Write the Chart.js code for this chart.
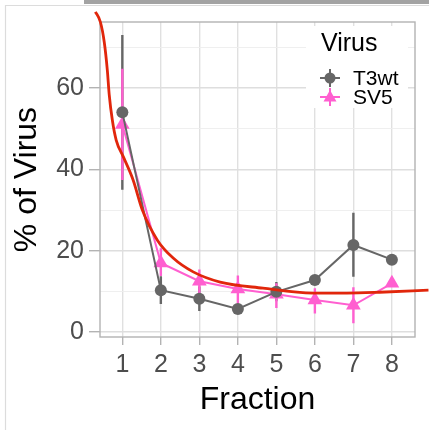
<!DOCTYPE html>
<html>
<head>
<meta charset="utf-8">
<script src="https://cdn.jsdelivr.net/npm/chart.js@4.4.0/dist/chart.umd.min.js"></script>
<style>
  html, body { margin: 0; padding: 0; background: #ffffff; }
  #wrap { width: 429px; height: 430px; }
</style>
</head>
<body>
<div id="wrap"><canvas id="c" width="429" height="430"></canvas></div>
<script>
// Fraction numbers along the x axis
const fractions = [1, 2, 3, 4, 5, 6, 7, 8];
const yTicks = [0, 10, 20, 30, 40, 50, 60, 70];

// T3wt: mean % of virus per fraction with error bar limits
const t3wtMean = [54.0, 10.3, 8.2, 5.7, 9.9, 12.8, 21.4, 17.8];
const t3wtLow  = [35.0, 6.9, 5.2, 4.6, 7.6, 11.6, 13.6, 16.8];
const t3wtHigh = [73.0, 13.7, 11.2, 6.8, 12.3, 14.0, 29.3, 18.8];

// SV5: mean % of virus per fraction with error bar limits
const sv5Mean = [51.0, 17.0, 12.5, 10.6, 9.3, 7.9, 6.6, 12.0];
const sv5Low  = [37.4, 13.8, 9.6, 7.0, 5.9, 4.6, 2.2, 11.2];
const sv5High = [64.7, 20.6, 15.4, 13.9, 12.0, 10.8, 11.0, 12.8];

// Hand-drawn trend curve (fraction, %)
const trendX = [0.20, 0.30, 0.43, 0.53, 0.61, 0.66, 0.74, 0.84, 1.03, 1.28, 1.52, 1.91, 2.32, 2.84, 3.54, 4.65, 5.95, 6.83, 7.68, 8.95];
const trendY = [80.4, 78.7, 76.2, 71.3, 64.4, 58.3, 52.1, 47.2, 43.0, 37.4, 30.0, 22.6, 18.2, 14.8, 12.3, 10.8, 9.6, 9.6, 9.8, 10.3];

const FONT = '"Liberation Sans", Arial, Helvetica, sans-serif';
const GREY = '#666666';
const PINK = '#ff5fd0';
const RED = '#e1260b';

function series(ys) {
  return fractions.map((x, i) => ({ x: x, y: ys[i] }));
}
function whiskers(lo, hi) {
  const out = [];
  fractions.forEach((x, i) => {
    out.push({ x: x, y: lo[i] }, { x: x, y: hi[i] }, { x: x, y: null });
  });
  return out;
}

// panel outline drawn around the plotting area
const panelBorder = {
  id: 'panelBorder',
  beforeDatasetsDraw(chart) {
    const { ctx, chartArea: a } = chart;
    ctx.save();
    ctx.strokeStyle = '#b3b3b3';
    ctx.lineWidth = 1.4;
    ctx.strokeRect(a.left, a.top, a.right - a.left, a.bottom - a.top);
    ctx.restore();
  }
};

// legend placed inside the top-right of the panel
const virusLegend = {
  id: 'virusLegend',
  afterDatasetsDraw(chart) {
    const { ctx } = chart;
    ctx.save();
    ctx.fillStyle = '#ffffff';
    ctx.fillRect(306, 26, 102, 82);
    ctx.fillStyle = '#000000';
    ctx.font = '25px ' + FONT;
    ctx.textBaseline = 'middle';
    ctx.textAlign = 'left';
    ctx.fillText('Virus', 321, 44);

    const keys = [
      { label: 'T3wt', color: GREY, y: 78, shape: 'circle' },
      { label: 'SV5', color: PINK, y: 97, shape: 'triangle' }
    ];
    keys.forEach(k => {
      const cx = 330;
      ctx.strokeStyle = k.color;
      ctx.fillStyle = k.color;
      ctx.lineWidth = 2;
      ctx.beginPath();
      ctx.moveTo(cx - 10, k.y); ctx.lineTo(cx + 10, k.y);
      ctx.moveTo(cx, k.y - 9); ctx.lineTo(cx, k.y + 9);
      ctx.stroke();
      ctx.beginPath();
      if (k.shape === 'circle') {
        ctx.arc(cx, k.y, 5.5, 0, Math.PI * 2);
      } else {
        ctx.moveTo(cx, k.y - 7);
        ctx.lineTo(cx + 6.5, k.y + 4.5);
        ctx.lineTo(cx - 6.5, k.y + 4.5);
        ctx.closePath();
      }
      ctx.fill();
      ctx.fillStyle = '#000000';
      ctx.font = '21px ' + FONT;
      ctx.fillText(k.label, 353, k.y + 1);
    });
    ctx.restore();
  }
};

// outer frame and the grey strip along the top edge
const frame = {
  id: 'frame',
  afterDraw(chart) {
    const { ctx } = chart;
    ctx.save();
    ctx.fillStyle = '#a3a3a3';
    ctx.fillRect(84, 0, 345, 4);
    ctx.strokeStyle = '#dcdcdc';
    ctx.lineWidth = 1.2;
    ctx.beginPath();
    ctx.moveTo(5.5, 430); ctx.lineTo(5.5, 5.5); ctx.lineTo(429, 5.5);
    ctx.stroke();
    ctx.restore();
  }
};

new Chart(document.getElementById('c'), {
  type: 'line',
  data: {
    datasets: [
      {
        label: 'trend',
        data: trendX.map((x, i) => ({ x: x, y: trendY[i] })),
        borderColor: RED,
        borderWidth: 2.8,
        pointRadius: 0,
        cubicInterpolationMode: 'monotone',
        clip: false,
        order: 0
      },
      {
        label: 'T3wt',
        data: series(t3wtMean),
        borderColor: GREY,
        backgroundColor: GREY,
        borderWidth: 2,
        pointStyle: 'circle',
        pointRadius: 6,
        pointBorderWidth: 0,
        tension: 0,
        order: 1
      },
      {
        label: 'SV5',
        data: series(sv5Mean),
        borderColor: PINK,
        backgroundColor: PINK,
        borderWidth: 2,
        pointStyle: 'triangle',
        pointRadius: 8.5,
        pointBorderWidth: 0,
        tension: 0,
        order: 2
      },
      {
        label: 'SV5 error',
        data: whiskers(sv5Low, sv5High),
        borderColor: PINK,
        borderWidth: 2.4,
        pointRadius: 0,
        spanGaps: false,
        order: 3
      },
      {
        label: 'T3wt error',
        data: whiskers(t3wtLow, t3wtHigh),
        borderColor: GREY,
        borderWidth: 2.4,
        pointRadius: 0,
        spanGaps: false,
        order: 4
      }
    ]
  },
  options: {
    responsive: false,
    animation: false,
    devicePixelRatio: 1,
    layout: { padding: { top: 22, right: 14, left: 0, bottom: 0 } },
    plugins: {
      legend: { display: false },
      tooltip: { enabled: false }
    },
    scales: {
      x: {
        type: 'linear',
        min: 0.42,
        max: 8.6,
        afterBuildTicks: s => { s.ticks = fractions.map(v => ({ value: v })); },
        afterFit: s => { s.height = 93; },
        ticks: {
          color: '#4d4d4d',
          font: { size: 25, family: FONT },
          padding: 5,
          autoSkip: false,
          maxRotation: 0,
          callback: v => String(v)
        },
        grid: {
          color: '#e0e0e0',
          lineWidth: 1.4,
          tickColor: '#b3b3b3',
          tickWidth: 1.4,
          tickLength: 8,
          drawTicks: true
        },
        border: { display: false },
        title: {
          display: true,
          text: 'Fraction',
          color: '#000000',
          font: { size: 32, family: FONT },
          padding: { top: 0, bottom: 11 }
        }
      },
      y: {
        type: 'linear',
        min: -1.2,
        max: 76.2,
        afterBuildTicks: s => { s.ticks = yTicks.map(v => ({ value: v })); },
        afterFit: s => { s.width = 100; },
        ticks: {
          color: '#4d4d4d',
          font: { size: 25, family: FONT },
          padding: 5,
          autoSkip: false,
          callback: v => (v % 20 === 0 ? String(v) : '')
        },
        grid: {
          color: ctx => (ctx.tick && ctx.tick.value % 20 === 0 ? '#dedede' : '#ededed'),
          lineWidth: ctx => (ctx.tick && ctx.tick.value % 20 === 0 ? 1.4 : 0.9),
          tickColor: ctx => (ctx.tick && ctx.tick.value % 20 === 0 ? '#b3b3b3' : 'rgba(0,0,0,0)'),
          tickWidth: 1.4,
          tickLength: 11,
          drawTicks: true
        },
        border: { display: false },
        title: {
          display: true,
          text: '% of Virus',
          color: '#000000',
          font: { size: 32, family: FONT },
          padding: { top: 8, bottom: 0 }
        }
      }
    }
  },
  plugins: [panelBorder, virusLegend, frame]
});
</script>
</body>
</html>
